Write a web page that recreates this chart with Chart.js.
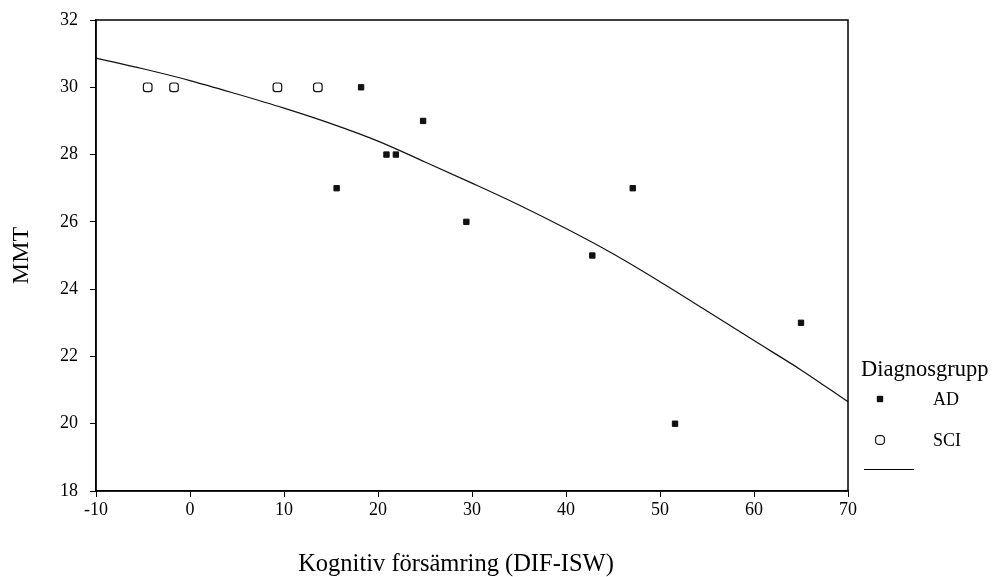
<!DOCTYPE html>
<html>
<head>
<meta charset="utf-8">
<script src="https://cdn.jsdelivr.net/npm/chart.js@4/dist/chart.umd.min.js"></script>
<style>
  html, body { margin: 0; padding: 0; background: #fff; }
  #wrap { width: 998px; height: 577px; position: relative; }
</style>
</head>
<body>
<div id="wrap"><canvas id="chart"></canvas></div>
<script>
  // ---- data ----
  const adX = [15.6, 18.2, 20.9, 21.9, 24.8, 29.4, 42.8, 47.1, 51.6, 65.0];
  const adY = [27, 30, 28, 28, 29, 26, 25, 27, 20, 23];
  const sciX = [-4.5, -1.7, 9.3, 13.6];
  const sciY = [30, 30, 30, 30];
  const fitX = [-10, -5, 0, 5, 10, 15, 20, 25, 30, 35, 40, 45, 50, 55, 60, 65, 70];
  const fitY = [30.87, 30.55, 30.2, 29.8, 29.38, 28.92, 28.4, 27.78, 27.15, 26.5, 25.8, 25.05, 24.22, 23.35, 22.47, 21.6, 20.65];
  const xTicks = [-10, 0, 10, 20, 30, 40, 50, 60, 70];
  const yTicks = [18, 20, 22, 24, 26, 28, 30, 32];
  const xTitle = "Kognitiv försämring (DIF-ISW)";
  const legendTitle = "Diagnosgrupp";
  const legendLabels = ["AD", "SCI"];

  const SERIF = "'Liberation Serif', 'DejaVu Serif', serif";

  function pts(xs, ys) {
    return xs.map((x, i) => ({ x: x, y: ys[i] }));
  }

  // frame around the plot, x title (sits left of centre) and legend
  const framePlugin = {
    id: "frame",
    afterDraw(chart) {
      const { ctx, chartArea: a } = chart;
      ctx.save();
      ctx.strokeStyle = "#000";
      ctx.lineWidth = 1.5;
      ctx.strokeRect(a.left, a.top, a.right - a.left, a.bottom - a.top);

      ctx.fillStyle = "#000";
      ctx.textBaseline = "middle";
      ctx.textAlign = "center";
      ctx.font = "24.5px " + SERIF;
      ctx.fillText(xTitle, 456, 565);

      // legend
      ctx.textAlign = "left";
      ctx.font = "22.5px " + SERIF;
      ctx.fillText(legendTitle, 861, 370);
      ctx.font = "18px " + SERIF;
      ctx.fillText(legendLabels[0], 933, 400);
      ctx.fillText(legendLabels[1], 933, 441);

      const ds = chart.data.datasets;
      ctx.lineWidth = 1;
      ctx.strokeStyle = "#000";
      ctx.fillStyle = ds[0].pointBackgroundColor;
      Chart.helpers.drawPoint(ctx, { pointStyle: ds[0].pointStyle, radius: ds[0].pointRadius, borderWidth: 1, rotation: 0 }, 880, 399);
      ctx.fill();
      ctx.fillStyle = ds[1].pointBackgroundColor;
      Chart.helpers.drawPoint(ctx, { pointStyle: ds[1].pointStyle, radius: ds[1].pointRadius, borderWidth: 1, rotation: 0 }, 880, 440);
      ctx.fill();
      ctx.stroke();

      ctx.beginPath();
      ctx.moveTo(864, 469.5);
      ctx.lineTo(914, 469.5);
      ctx.stroke();
      ctx.restore();
    },
  };

  new Chart(document.getElementById("chart"), {
    type: "scatter",
    data: {
      datasets: [
        {
          label: legendLabels[0],
          data: pts(adX, adY),
          pointStyle: "rect",
          pointRadius: 3.8,
          pointBackgroundColor: "#111",
          pointBorderColor: "#111",
          pointBorderWidth: 1,
        },
        {
          label: legendLabels[1],
          data: pts(sciX, sciY),
          pointStyle: "rectRounded",
          pointRadius: 5,
          pointBackgroundColor: "#fff",
          pointBorderColor: "#111",
          pointBorderWidth: 1.2,
        },
        {
          type: "line",
          label: "fit",
          data: pts(fitX, fitY),
          borderColor: "#111",
          borderWidth: 1.2,
          pointRadius: 0,
          fill: false,
          cubicInterpolationMode: "monotone",
        },
      ],
    },
    options: {
      responsive: true,
      maintainAspectRatio: false,
      animation: false,
      layout: { padding: { left: 0, right: 150, top: 20, bottom: 0 } },
      plugins: { legend: { display: false }, tooltip: { enabled: false } },
      scales: {
        x: {
          type: "linear",
          min: -10,
          max: 70,
          afterBuildTicks: (s) => { s.ticks = xTicks.map((v) => ({ value: v })); },
          afterFit: (s) => { s.height = 86; },
          grid: { drawOnChartArea: false, drawTicks: true, tickLength: 6, color: "#000", lineWidth: 1 },
          border: { display: true, color: "#000", width: 1.5 },
          ticks: { color: "#000", font: { family: SERIF, size: 18 }, padding: 2, maxRotation: 0 },
          title: { display: false },
        },
        y: {
          type: "linear",
          min: 18,
          max: 32,
          afterBuildTicks: (s) => { s.ticks = yTicks.map((v) => ({ value: v })); },
          afterFit: (s) => {
            s.width = 96;
            // label padding should not push the plot top down
            s.paddingTop = 0;
            s.paddingBottom = 0;
          },
          grid: { drawOnChartArea: false, drawTicks: true, tickLength: 6, color: "#000", lineWidth: 1 },
          border: { display: true, color: "#000", width: 1.5 },
          ticks: { color: "#000", font: { family: SERIF, size: 18 }, padding: 12 },
          title: {
            display: true,
            text: "MMT",
            color: "#000",
            font: { family: SERIF, size: 24, lineHeight: 1 },
            padding: { top: 10, bottom: 0 },
          },
        },
      },
    },
    plugins: [framePlugin],
  });
</script>
</body>
</html>
